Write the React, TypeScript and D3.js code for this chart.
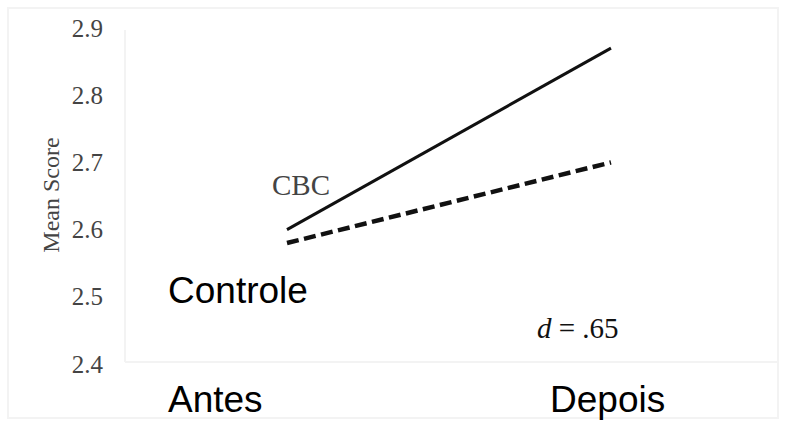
import { useEffect, useRef } from 'react';
import * as d3 from 'd3';

const phases = ['Antes', 'Depois'];
const cbcScores = [2.60, 2.87];
const controleScores = [2.58, 2.70];
const yTicks = [2.4, 2.5, 2.6, 2.7, 2.8, 2.9];

const W = 790;
const H = 421;

const SERIF = '"Liberation Serif", "DejaVu Serif", serif';
const SANS = '"Liberation Sans", Arial, sans-serif';

const App = () => {
  const ref = useRef<SVGSVGElement>(null);

  useEffect(() => {
    document.body.style.margin = '0';
    const svg = d3.select(ref.current);
    svg.selectAll('*').remove();

    const x = d3.scalePoint<string>().domain(phases).range([287, 611]);
    const y = d3.scaleLinear().domain([2.4, 2.9]).range([364, 28]);

    // faint scan frame
    const frame = svg.append('g').attr('stroke', '#f3f3f3').attr('stroke-width', 2).attr('fill', 'none');
    frame.append('rect').attr('x', 8).attr('y', 8).attr('width', 770).attr('height', 410);
    frame.append('line').attr('x1', 125).attr('x2', 125).attr('y1', 30).attr('y2', 362);
    frame.append('line').attr('x1', 125).attr('x2', 777).attr('y1', 362).attr('y2', 362);

    // y tick labels
    svg.append('g')
      .selectAll('text')
      .data(yTicks)
      .join('text')
      .attr('x', 103)
      .attr('y', d => y(d))
      .attr('dy', '0.34em')
      .attr('text-anchor', 'end')
      .attr('font-family', SERIF)
      .attr('font-size', 25)
      .attr('fill', '#444')
      .text(d => d3.format('.1f')(d));

    svg.append('text')
      .attr('transform', 'translate(59,195) rotate(-90)')
      .attr('text-anchor', 'middle')
      .attr('font-family', SERIF)
      .attr('font-size', 24)
      .attr('fill', '#444')
      .text('Mean Score');

    const line = d3.line<number>()
      .x((_, i) => x(phases[i]) as number)
      .y(d => y(d));

    svg.append('path')
      .attr('d', line(cbcScores))
      .attr('stroke', '#111')
      .attr('stroke-width', 3)
      .attr('fill', 'none');

    svg.append('path')
      .attr('d', line(controleScores))
      .attr('stroke', '#111')
      .attr('stroke-width', 4.5)
      .attr('stroke-dasharray', '12 5.5')
      .attr('fill', 'none');

    svg.append('text')
      .attr('x', 272)
      .attr('y', 195)
      .attr('font-family', SERIF)
      .attr('font-size', 29)
      .attr('fill', '#444')
      .text('CBC');

    svg.append('text')
      .attr('x', 168)
      .attr('y', 303)
      .attr('font-family', SANS)
      .attr('font-size', 37)
      .attr('fill', '#000')
      .text('Controle');

    const dText = svg.append('text')
      .attr('x', 537)
      .attr('y', 338)
      .attr('font-family', SERIF)
      .attr('font-size', 29)
      .attr('fill', '#111');
    dText.append('tspan').attr('font-style', 'italic').text('d');
    dText.append('tspan').text(' = .65');

    // x category labels
    svg.append('g')
      .selectAll('text')
      .data(phases)
      .join('text')
      .attr('x', (d, i) => (i === 0 ? 168 : 550))
      .attr('y', 412)
      .attr('font-family', SANS)
      .attr('font-size', 37)
      .attr('fill', '#000')
      .text(d => d);
  }, []);

  return (
    <div style={{ position: 'absolute', left: 0, top: 0 }}>
      <svg ref={ref} width={W} height={H} style={{ display: 'block', background: '#fff' }} />
    </div>
  );
};

export default App;
